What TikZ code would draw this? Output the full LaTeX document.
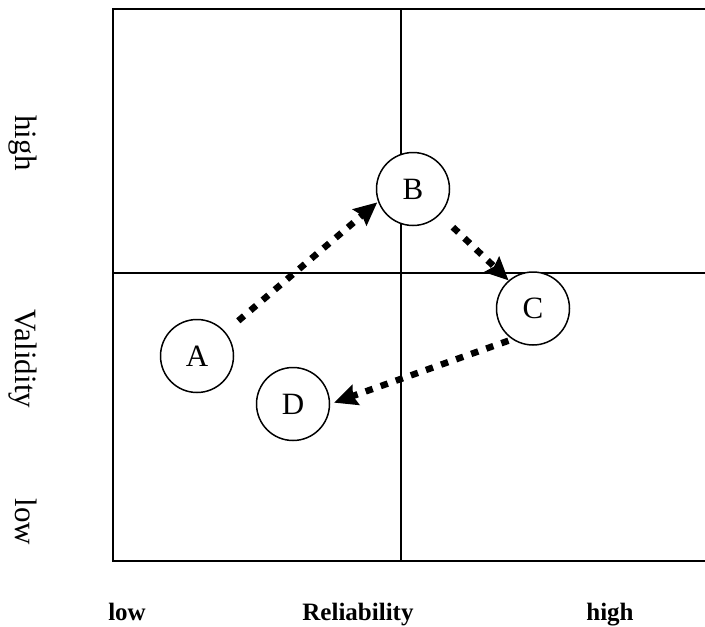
\documentclass[tikz,border=0pt]{standalone}
\usepackage{fontspec}
\setmainfont{Liberation Serif}
\usetikzlibrary{arrows.meta}
\tikzset{
  quadframe/.style={line width=2pt, draw=black},
  quadsplit/.style={line width=1.5pt, draw=black},
  bubble/.style={circle, draw=black, fill=white, line width=1.5pt, minimum size=73pt, inner sep=0pt, font=\fontsize{31}{31}\selectfont},
  sidelabel/.style={rotate=-90, anchor=base, font=\fontsize{31}{31}\selectfont},
  axislabel/.style={anchor=base, font=\fontsize{25}{25}\selectfont\bfseries},
  trend/.style={line width=6.5pt, dash pattern=on 7.5pt off 8.5pt, -{Stealth[length=23pt, width=21pt, inset=3pt]}},
}

\begin{document}
\begin{tikzpicture}[x=1pt, y=-1pt]
\useasboundingbox (0,0) rectangle (705,627);
\draw[quadframe] (705,9) -- (112.5,9) -- (112.5,561) -- (705,561);
\draw[quadsplit] (401,9) -- (401,561);
\draw[quadsplit] (112.5,273) -- (705,273);
\node[bubble] (A) at (197,356) {A};
\node[bubble] (B) at (413,189) {B};
\node[bubble] (C) at (533,308.5) {C};
\node[bubble] (D) at (293,404) {D};
\draw[trend, shorten <=17pt, shorten >=1pt] (A) -- (B.200);
\draw[trend, shorten <=18pt] (B) -- (C.131);
\draw[trend, shorten <=4pt, shorten >=4pt] (C.236) -- (D.east);
\node[sidelabel] (vhigh) at (16,143) {high};
\node[sidelabel] (vname) at (16,359) {Validity};
\node[sidelabel] (vlow) at (16,522) {low};
\node[axislabel] (rlow) at (127,620) {low};
\node[axislabel] (rname) at (358,620) {Reliability};
\node[axislabel] (rhigh) at (610,620) {high};
\end{tikzpicture}
\end{document}
